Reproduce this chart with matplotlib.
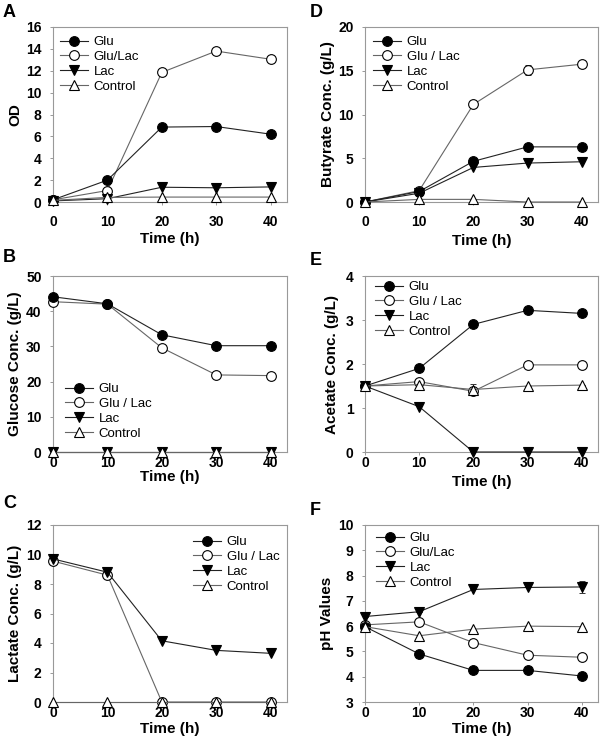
import numpy as np
import matplotlib
matplotlib.use("Agg")
import matplotlib.pyplot as plt

plt.rcParams['font.family'] = ['Liberation Sans', 'DejaVu Sans']

time_h = [0, 10, 20, 30, 40]

# A - OD
od_glu = [0.2, 2.0, 6.85, 6.9, 6.2]
od_glulac = [0.2, 1.05, 11.85, 13.8, 13.05]
od_lac = [0.1, 0.3, 1.35, 1.3, 1.38]
od_control = [0.15, 0.42, 0.45, 0.45, 0.45]

# B - glucose (g/L)
glucose_glu = [44.1, 42.1, 33.3, 30.2, 30.2]
glucose_glulac = [42.7, 42.0, 29.6, 21.9, 21.7]
glucose_lac = [0, 0, 0, 0, 0]
glucose_control = [0, 0, 0, 0, 0]

# C - lactate (g/L), Glu not measured
lactate_glu = [np.nan, np.nan, np.nan, np.nan, np.nan]
lactate_glulac = [9.55, 8.6, 0, 0, 0]
lactate_lac = [9.7, 8.8, 4.15, 3.5, 3.3]
lactate_control = [0, 0, 0, 0, 0]

# D - butyrate (g/L)
butyrate_glu = [0, 1.2, 4.65, 6.3, 6.3]
butyrate_glulac = [0, 1.3, 11.15, 15.1, 15.75]
butyrate_lac = [0, 1.0, 3.95, 4.45, 4.6]
butyrate_control = [0, 0.3, 0.3, 0, 0]
err_butyrate_glulac = [0, 0, 0, 0.6, 0]

# E - acetate (g/L)
acetate_glu = [1.5, 1.9, 2.9, 3.22, 3.15]
acetate_glulac = [1.5, 1.6, 1.38, 1.98, 1.98]
acetate_lac = [1.5, 1.03, 0, 0, 0]
acetate_control = [1.5, 1.53, 1.42, 1.5, 1.52]
err_acetate_control = [0, 0, 0.12, 0, 0]

# F - pH
ph_glu = [5.98, 4.9, 4.25, 4.25, 4.03]
ph_glulac = [6.05, 6.17, 5.35, 4.85, 4.77]
ph_lac = [6.38, 6.57, 7.45, 7.53, 7.55]
ph_control = [5.98, 5.62, 5.88, 6.0, 5.98]
err_ph_lac = [0, 0, 0, 0, 0.25]

labels_a = ["Glu", "Glu/Lac", "Lac", "Control"]
labels_b = ["Glu", "Glu / Lac", "Lac", "Control"]

W, H = 600, 745
fig = plt.figure(figsize=(W / 100, H / 100), dpi=100)


def px_axes(left, top, right, bottom):
    return fig.add_axes([left / W, 1 - bottom / H, (right - left) / W, (bottom - top) / H])


styles = [
    dict(marker='o', mfc='black', color='#222222'),
    dict(marker='o', mfc='white', color='#666666'),
    dict(marker='v', mfc='black', color='#222222'),
    dict(marker='^', mfc='white', color='#666666'),
]


def panel(rect, letter, letter_xy, data, labels, ylim, yticks, ylabel, ylab_x,
          xtick_pad, xlab_dy, leg_xy, errs=None):
    ax = px_axes(*rect)
    height_px = rect[3] - rect[1]
    width_px = rect[2] - rect[0]
    for i, vals in enumerate(data):
        st = styles[i]
        ax.plot(time_h, vals, marker=st['marker'], ms=7, mfc=st['mfc'], mec='black',
                mew=0.8, color=st['color'], lw=0.8, label=labels[i], clip_on=False,
                zorder=10 - i if i < 2 else 10 + i)
        if errs is not None and errs.get(i) is not None:
            ax.errorbar(time_h, vals, yerr=errs[i], fmt='none', ecolor='#333333',
                        elinewidth=0.7, capsize=2.5, capthick=0.7, zorder=3)
    ax.set_xlim(0, 43)
    ax.set_ylim(*ylim)
    ax.set_xticks([0, 10, 20, 30, 40])
    ax.set_yticks(yticks)
    for s in ax.spines.values():
        s.set_color('#999999')
        s.set_linewidth(0.8)
    ax.tick_params(axis='both', direction='out', length=2.2, width=0.7, color='#999999',
                   labelsize=10)
    ax.tick_params(axis='y', pad=6)
    ax.tick_params(axis='x', pad=xtick_pad)
    for t in ax.get_xticklabels() + ax.get_yticklabels():
        t.set_fontweight('bold')
    ax.set_xlabel('Time (h)', fontsize=11, fontweight='bold', va='center')
    ax.xaxis.set_label_coords(0.5, -xlab_dy / height_px)
    ax.set_ylabel(ylabel, fontsize=11, fontweight='bold', va='center')
    ax.yaxis.set_label_coords((ylab_x - rect[0]) / width_px, 0.5)
    lx = (leg_xy[0] - rect[0]) / width_px
    ly = (rect[3] - (leg_xy[1] - 7.0)) / height_px
    ax.legend(loc='upper left', bbox_to_anchor=(lx, ly), frameon=False, fontsize=9.5,
              borderpad=0, borderaxespad=0, handlelength=2.1, handletextpad=0.45,
              labelspacing=0.2)
    fig.text(letter_xy[0] / W, 1 - letter_xy[1] / H, letter, fontsize=13,
             fontweight='bold', va='baseline', ha='left')
    return ax


panel((53, 27, 287, 202), 'A', (3, 17),
      [od_glu, od_glulac, od_lac, od_control], labels_a,
      (0, 16), range(0, 17, 2), 'OD', 15, 6.8, 37, (60, 43))

panel((53, 276, 287, 452), 'B', (3, 262),
      [glucose_glu, glucose_glulac, glucose_lac, glucose_control], labels_b,
      (0, 50), range(0, 51, 10), 'Glucose Conc. (g/L)', 15, 0.5, 25, (65, 390))

panel((53, 525, 287, 702), 'C', (3, 508),
      [lactate_glu, lactate_glulac, lactate_lac, lactate_control], labels_b,
      (0, 12), range(0, 13, 2), 'Lactate Conc. (g/L)', 15, 0.5, 27, (193, 543))

panel((365, 27, 598, 202), 'D', (310, 17),
      [butyrate_glu, butyrate_glulac, butyrate_lac, butyrate_control], labels_b,
      (0, 20), range(0, 21, 5), 'Butyrate Conc. (g/L)', 328, 6.8, 39, (373, 43),
      errs={1: err_butyrate_glulac})

panel((365, 276, 598, 452), 'E', (310, 265),
      [acetate_glu, acetate_glulac, acetate_lac, acetate_control], labels_b,
      (0, 4), range(0, 5), 'Acetate Conc. (g/L)', 332, 0.5, 30, (375, 288),
      errs={3: err_acetate_control})

panel((365, 525, 598, 702), 'F', (310, 515),
      [ph_glu, ph_glulac, ph_lac, ph_control], labels_a,
      (3, 10), range(3, 11), 'pH Values', 327, 0.5, 27, (376, 539),
      errs={2: err_ph_lac})

fig.savefig('out.png', dpi=100)
